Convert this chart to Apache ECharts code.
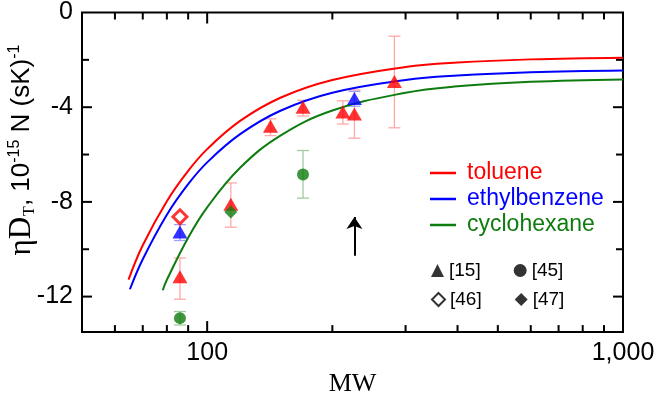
<!DOCTYPE html>
<html>
<head>
<meta charset="utf-8">
<script src="https://cdn.jsdelivr.net/npm/echarts@6/dist/echarts.min.js"></script>
<style>
  html, body { margin: 0; padding: 0; background: #fff; }
  #chart { width: 658px; height: 402px; }
</style>
</head>
<body>
<div id="chart"></div>
<script>
// fitted curves
const tolMW = [64.7, 70, 80, 90, 100, 120, 150, 200, 300, 400, 600, 1000];
const tolY = [-11.28, -9.83, -7.97, -6.69, -5.77, -4.58, -3.6, -2.85, -2.3, -2.11, -1.98, -1.91];
const ethMW = [65.2, 70, 80, 90, 100, 120, 150, 200, 300, 400, 600, 1000];
const ethY = [-11.69, -10.42, -8.54, -7.25, -6.33, -5.14, -4.15, -3.39, -2.85, -2.66, -2.52, -2.45];
const cycMW = [78.2, 80, 90, 100, 120, 150, 200, 300, 400, 600, 1000];
const cycY = [-11.73, -11.29, -9.51, -8.23, -6.56, -5.2, -4.14, -3.39, -3.12, -2.93, -2.83];

// [15] toluene (red triangles)
const tolTriMW = [86, 114, 142, 170, 212, 226, 282];
const tolTriY = [-11.16, -8.1, -4.8, -4.0, -4.2, -4.29, -2.91];
const tolTriLow = [-12.11, -9.07, -5.2, -4.37, -4.71, -5.31, -4.87];
const tolTriHigh = [-10.37, -7.2, -4.49, -3.71, -3.73, -3.27, -1.0];
// [15] ethylbenzene (blue triangles)
const ethTriMW = [86, 226];
const ethTriY = [-9.27, -3.63];
const ethTriLow = [-9.63, -3.96];
const ethTriHigh = [-8.96, -3.33];
// [45] cyclohexane (green circles)
const cycCircMW = [86, 170];
const cycCircY = [-12.91, -6.84];
const cycCircLow = [-13.2, -7.84];
const cycCircHigh = [-12.63, -5.83];
// [46] toluene (open diamond), [47] cyclohexane (filled diamond)
const tolOpenMW = [86];
const tolOpenY = [-8.63];
const cycDiaMW = [114];
const cycDiaY = [-8.43];

// arrow
const arrowMW = 226;
const arrowY = [-10.27, -8.64];

// axis ticks
const xMajorTicks = [100, 1000];
const xMinorTicks = [60, 70, 80, 90, 200, 300, 400, 500, 600, 700, 800, 900];
const yMajorTicks = [-4, -8, -12];
const yMinorTicks = [-2, -6, -10];
const yLabelValues = [0, -4, -8, -12];

const X_MIN = 50, X_MAX = 1000, Y_MIN = -13.5, Y_MAX = 0;
const RED = '#ff0000', BLUE = '#0000ff', GREEN = '#0e7c0e';
const SANS = '"Liberation Sans", Arial, sans-serif';
const SERIF = '"Liberation Serif", "Times New Roman", serif';

const pairs = (xs, ys) => xs.map((x, i) => [x, ys[i]]);
const bars = (xs, lo, hi) => xs.map((x, i) => [x, lo[i], hi[i]]);

function renderErrorBar(params, api) {
  const x = api.value(0);
  const top = api.coord([x, api.value(2)]);
  const bot = api.coord([x, api.value(1)]);
  const half = 6;
  const style = { stroke: api.visual('color'), lineWidth: 1.3 };
  return {
    type: 'group',
    children: [
      { type: 'line', shape: { x1: top[0], y1: top[1], x2: bot[0], y2: bot[1] }, style },
      { type: 'line', shape: { x1: top[0] - half, y1: top[1], x2: top[0] + half, y2: top[1] }, style },
      { type: 'line', shape: { x1: bot[0] - half, y1: bot[1], x2: bot[0] + half, y2: bot[1] }, style }
    ]
  };
}

function renderXTick(params, api) {
  const cs = params.coordSys;
  const p = api.coord([api.value(0), Y_MIN]);
  const len = api.value(2);
  const style = { stroke: '#000', lineWidth: 2 };
  return {
    type: 'group',
    children: [
      { type: 'line', shape: { x1: p[0], y1: cs.y + cs.height, x2: p[0], y2: cs.y + cs.height - len }, style },
      { type: 'line', shape: { x1: p[0], y1: cs.y, x2: p[0], y2: cs.y + len }, style }
    ]
  };
}

function renderYTick(params, api) {
  const cs = params.coordSys;
  const p = api.coord([X_MIN, api.value(1)]);
  const len = api.value(2);
  const style = { stroke: '#000', lineWidth: 2 };
  return {
    type: 'group',
    children: [
      { type: 'line', shape: { x1: cs.x, y1: p[1], x2: cs.x + len, y2: p[1] }, style },
      { type: 'line', shape: { x1: cs.x + cs.width, y1: p[1], x2: cs.x + cs.width - len, y2: p[1] }, style }
    ]
  };
}

function curve(name, xs, ys, color) {
  return {
    name, type: 'line', data: pairs(xs, ys), smooth: 0.4, symbol: 'none',
    lineStyle: { color, width: 2 }, itemStyle: { color }, z: 3, silent: true
  };
}

function errorBars(xs, lo, hi, color) {
  return {
    type: 'custom', renderItem: renderErrorBar, data: bars(xs, lo, hi),
    itemStyle: { color }, encode: { x: 0, y: [1, 2] }, z: 2, silent: true
  };
}

function markers(xs, ys, symbol, size, color, extra) {
  return Object.assign({
    type: 'scatter', data: pairs(xs, ys), symbol, symbolSize: size,
    itemStyle: { color }, z: 5, silent: true
  }, extra || {});
}

function dummy(name, symbol, extra) {
  return Object.assign({ name, type: 'scatter', data: [], symbol, itemStyle: { color: '#000' } }, extra || {});
}

const chart = echarts.init(document.getElementById('chart'), null, { renderer: 'canvas' });

chart.setOption({
  animation: false,
  backgroundColor: '#fff',
  grid: { left: 82, right: 35, top: 10, bottom: 54, show: true, borderColor: '#000', borderWidth: 2, backgroundColor: 'transparent' },
  xAxis: {
    type: 'log', logBase: 10, min: X_MIN, max: X_MAX,
    axisLine: { show: false }, axisTick: { show: false }, splitLine: { show: false },
    axisLabel: {
      color: '#000', fontFamily: SANS, fontSize: 25, margin: 9, showMaxLabel: true,
      formatter: v => {
        const r = Math.round(v);
        return xMajorTicks.indexOf(r) >= 0 ? r.toLocaleString('en-US') : '';
      }
    },
    name: 'MW', nameLocation: 'middle', nameGap: 32,
    nameTextStyle: { color: '#000', fontFamily: SERIF, fontSize: 26 }
  },
  yAxis: {
    type: 'value', min: Y_MIN, max: Y_MAX, interval: 0.5,
    axisLine: { show: false }, axisTick: { show: false }, splitLine: { show: false },
    axisLabel: {
      color: '#000', fontFamily: SANS, fontSize: 25, margin: 9,
      formatter: v => (yLabelValues.indexOf(v) >= 0 ? String(v) : '')
    }
  },
  legend: [
    {
      data: [
        { name: 'toluene', textStyle: { color: RED } },
        { name: 'ethylbenzene', textStyle: { color: BLUE } },
        { name: 'cyclohexane', textStyle: { color: GREEN } }
      ],
      orient: 'vertical', left: 425, top: 156, itemGap: 2,
      icon: 'rect', itemWidth: 26, itemHeight: 2.5,
      textStyle: { fontFamily: SANS, fontSize: 23, lineHeight: 24, padding: [0, 0, 0, 6] },
      selectedMode: false
    },
    {
      data: ['[15]', '[45]'], orient: 'horizontal', left: 426, top: 256, itemGap: 33,
      itemWidth: 13, itemHeight: 13,
      textStyle: { fontFamily: SANS, fontSize: 19, color: '#000' }, selectedMode: false
    },
    {
      data: ['[46]', '[47]'], orient: 'horizontal', left: 426, top: 285, itemGap: 33,
      itemWidth: 13, itemHeight: 13,
      textStyle: { fontFamily: SANS, fontSize: 19, color: '#000' }, selectedMode: false
    }
  ],
  graphic: [
    {
      type: 'text', x: 22, y: 150, rotation: Math.PI / 2,
      style: {
        text: '{s|ηD}{sub|T}{a|, 10}{sup|-15}{a| N (sK)}{sup|-1}',
        align: 'center', verticalAlign: 'middle', fill: '#000',
        rich: {
          s: { fontFamily: SERIF, fontSize: 31, fill: '#000' },
          sub: { fontFamily: SERIF, fontSize: 16, fill: '#000', verticalAlign: 'bottom', padding: [0, 0, 0, 1] },
          a: { fontFamily: SANS, fontSize: 26, fill: '#000' },
          sup: { fontFamily: SANS, fontSize: 16, fill: '#000', verticalAlign: 'top' }
        }
      }
    }
  ],
  series: [
    { type: 'custom', renderItem: renderXTick, data: xMajorTicks.map(v => [v, Y_MIN, 11]).concat(xMinorTicks.map(v => [v, Y_MIN, 7])), z: 1, silent: true },
    { type: 'custom', renderItem: renderYTick, data: yMajorTicks.map(v => [X_MIN, v, 10]).concat(yMinorTicks.map(v => [X_MIN, v, 7])), z: 1, silent: true },
    curve('toluene', tolMW, tolY, RED),
    curve('ethylbenzene', ethMW, ethY, BLUE),
    curve('cyclohexane', cycMW, cycY, GREEN),
    errorBars(tolTriMW, tolTriLow, tolTriHigh, '#ffa8a8'),
    errorBars(ethTriMW, ethTriLow, ethTriHigh, '#a0a0ff'),
    errorBars(cycCircMW, cycCircLow, cycCircHigh, '#9fcc9f'),
    markers(tolTriMW, tolTriY, 'triangle', [15, 13], RED),
    markers(ethTriMW, ethTriY, 'triangle', [15, 13], BLUE, { z: 6 }),
    markers(cycCircMW, cycCircY, 'circle', 12, GREEN),
    markers(tolOpenMW, tolOpenY, 'diamond', 14, RED, { itemStyle: { color: '#fff', borderColor: RED, borderWidth: 3 } }),
    markers(cycDiaMW, cycDiaY, 'diamond', 13, GREEN, { z: 6 }),
    {
      type: 'lines', coordinateSystem: 'cartesian2d', silent: true, z: 4,
      symbol: ['none', 'arrow'], symbolSize: 12,
      lineStyle: { color: '#000', width: 2, opacity: 1 },
      data: [{ coords: [[arrowMW, arrowY[0]], [arrowMW, arrowY[1]]] }]
    },
    dummy('[15]', 'triangle'),
    dummy('[45]', 'circle'),
    dummy('[46]', 'emptyDiamond', { itemStyle: { color: '#000', borderWidth: 1.5 } }),
    dummy('[47]', 'diamond')
  ]
});
</script>
</body>
</html>
